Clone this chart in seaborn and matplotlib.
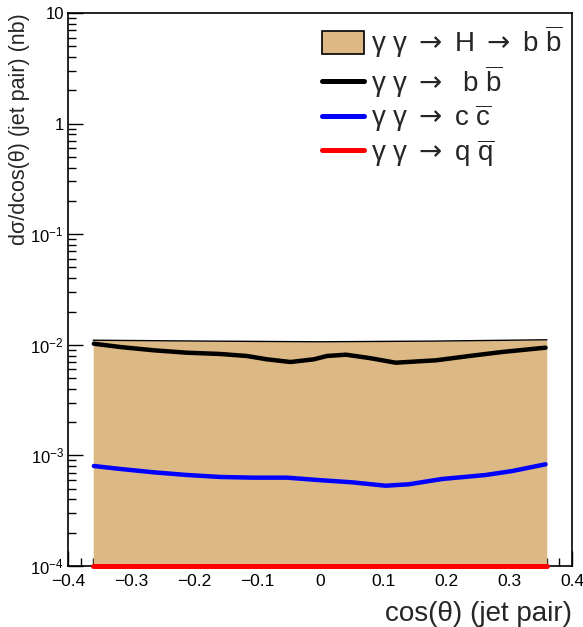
import matplotlib
matplotlib.use("Agg")
import matplotlib.pyplot as plt
import matplotlib.ticker as mticker
from matplotlib.patches import Patch
from matplotlib.lines import Line2D
import seaborn as sns
import pandas as pd

# cos(theta) of the jet pair and d(sigma)/dcos(theta) in nb
x_higgs = [-0.36, -0.18, 0.0, 0.18, 0.36]
y_higgs = [1.10e-2, 1.08e-2, 1.065e-2, 1.08e-2, 1.11e-2]

x_bb = [-0.359, -0.317, -0.264, -0.211, -0.158, -0.116, -0.084, -0.047, -0.010,
        0.011, 0.041, 0.078, 0.120, 0.184, 0.237, 0.289, 0.358]
y_bb = [1.023e-2, 9.55e-3, 8.92e-3, 8.48e-3, 8.26e-3, 7.92e-3, 7.39e-3, 6.99e-3, 7.39e-3,
        7.92e-3, 8.14e-3, 7.60e-3, 6.89e-3, 7.24e-3, 7.92e-3, 8.61e-3, 9.42e-3]

x_cc = [-0.359, -0.317, -0.264, -0.211, -0.158, -0.105, -0.052, 0.0,
        0.051, 0.104, 0.141, 0.194, 0.263, 0.305, 0.358]
y_cc = [8.02e-4, 7.54e-4, 7.03e-4, 6.65e-4, 6.38e-4, 6.29e-4, 6.29e-4, 5.97e-4,
        5.71e-4, 5.32e-4, 5.48e-4, 6.12e-4, 6.65e-4, 7.22e-4, 8.31e-4]

x_qq = [-0.36, 0.36]
y_qq = [1.0e-4, 1.0e-4]

ARROW = r"$\mathsf{\rightarrow}$"
labels = [
    rf"γ γ {ARROW} H {ARROW} b $\overline{{\mathrm{{b}}}}$",
    rf"γ γ {ARROW}  b $\overline{{\mathrm{{b}}}}$",
    rf"γ γ {ARROW} c $\overline{{\mathrm{{c}}}}$",
    rf"γ γ {ARROW} q $\overline{{\mathrm{{q}}}}$",
]

y_ticks = [1e-4, 1e-3, 1e-2, 1e-1, 1, 10]
y_ticklabels = [r"$10^{-4}$", r"$10^{-3}$", r"$10^{-2}$", r"$10^{-1}$", "1", "10"]
x_ticks = [-0.4, -0.3, -0.2, -0.1, 0.0, 0.1, 0.2, 0.3, 0.4]
x_ticklabels = ["\u22120.4", "\u22120.3", "\u22120.2", "\u22120.1", "0", "0.1", "0.2", "0.3", "0.4"]

sns.set_theme(style="ticks")
plt.rcParams["font.family"] = ["Liberation Sans", "DejaVu Sans"]
plt.rcParams["mathtext.fontset"] = "custom"
plt.rcParams["mathtext.rm"] = "Liberation Sans"
plt.rcParams["mathtext.it"] = "Liberation Sans:italic"
plt.rcParams["mathtext.bf"] = "Liberation Sans:bold"
plt.rcParams["mathtext.sf"] = "DejaVu Sans"

W, H = 583, 627
fig = plt.figure(figsize=(W / 100, H / 100), dpi=100)
ax = fig.add_axes([68 / W, 1 - 566 / H, (572 - 68) / W, (566 - 13) / H])

fill_color = "#dcb884"
ax.fill_between(x_higgs, 1e-4, y_higgs, color=fill_color, lw=0, zorder=1)
sns.lineplot(x=x_higgs, y=y_higgs, color="black", lw=1.0, ax=ax, zorder=2)

sns.lineplot(data=pd.DataFrame({"x": x_bb, "y": y_bb}), x="x", y="y",
             color="black", lw=3.2, ax=ax, zorder=3)
sns.lineplot(data=pd.DataFrame({"x": x_cc, "y": y_cc}), x="x", y="y",
             color="#0000ff", lw=3.2, ax=ax, zorder=3)
red = sns.lineplot(x=x_qq, y=y_qq, color="#ff0000", lw=3.6, ax=ax, zorder=4)
red.lines[-1].set_clip_on(False)

ax.set_yscale("log")
ax.set_xlim(-0.4, 0.4)
ax.set_ylim(1e-4, 10)

ax.yaxis.set_major_locator(mticker.FixedLocator(y_ticks))
ax.yaxis.set_major_formatter(mticker.FixedFormatter(y_ticklabels))
ax.yaxis.set_minor_locator(mticker.LogLocator(base=10, subs=range(2, 10)))
ax.yaxis.set_minor_formatter(mticker.NullFormatter())
ax.xaxis.set_major_locator(mticker.FixedLocator(x_ticks))
ax.xaxis.set_major_formatter(mticker.FixedFormatter(x_ticklabels))
ax.xaxis.set_minor_locator(mticker.MultipleLocator(0.02))

ax.tick_params(which="both", direction="in", top=False, right=False,
               colors="black", width=1.0)
ax.tick_params(axis="x", which="major", length=11, pad=6, labelsize=12.5)
ax.tick_params(axis="y", which="major", length=11, pad=3, labelsize=12)
ax.tick_params(which="minor", length=5.8)
for s in ax.spines.values():
    s.set_linewidth(1.2)
    s.set_color("black")

ax.set_xlabel("cos(θ) (jet pair)", fontsize=20, loc="right")
ax.xaxis.set_label_coords(1.0, -0.064)
ax.set_ylabel("dσ/dcos(θ) (jet pair) (nb)", fontsize=15.5, loc="top")
ax.yaxis.set_label_coords(-0.076, 1.0)

handles = [
    Patch(facecolor=fill_color, edgecolor="black", lw=1.2),
    Line2D([], [], color="black", lw=3.6),
    Line2D([], [], color="#0000ff", lw=3.6),
    Line2D([], [], color="#ff0000", lw=3.6),
]
ax.legend(handles, labels, loc="upper left", bbox_to_anchor=(322 / W, 1 - 23 / H),
          bbox_transform=fig.transFigure, frameon=False, fontsize=20,
          handlelength=1.5, handleheight=0.9, handletextpad=0.25,
          labelspacing=0.1, borderpad=0, borderaxespad=0)

fig.savefig("out.png", dpi=100)
